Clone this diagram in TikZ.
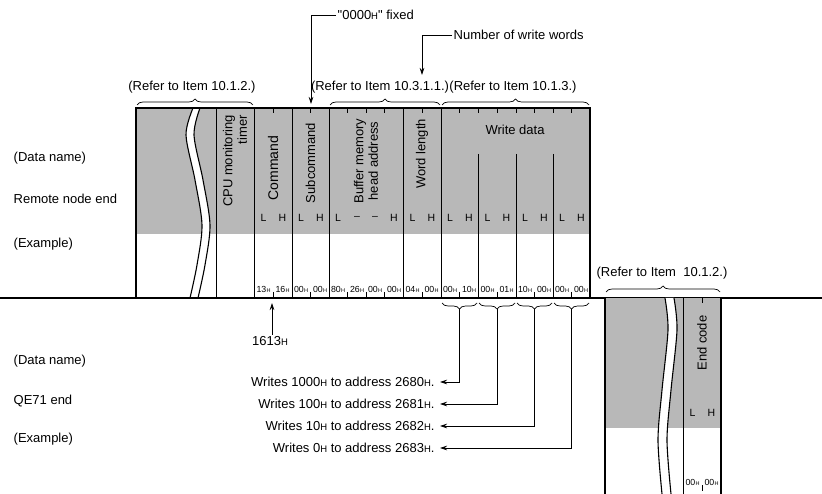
\documentclass[tikz,border=0pt]{standalone}
\usepackage{fontspec}
\setmainfont{Liberation Sans}[Ligatures=TeXOff]
\usetikzlibrary{decorations.pathreplacing,arrows.meta,calc}
\newcommand{\sH}{{\fontsize{9.5}{10}\selectfont H}}
\newcommand{\hv}[1]{#1\kern0.2pt{\fontsize{5.5}{5.5}\selectfont H}}
\begin{document}
\begin{tikzpicture}[x=1pt,y=-1pt,
  lbl/.style={font=\fontsize{13}{15}\selectfont, inner sep=1.5pt},
  wlbl/.style={font=\fontsize{13}{15}\selectfont, inner sep=1.5pt, outer sep=4pt, anchor=east},
  vlbl/.style={font=\fontsize{13}{14.5}\selectfont, rotate=90, inner sep=1pt},
  lh/.style={font=\fontsize{10.5}{11}\selectfont, inner sep=0pt},
  hexs/.style={font=\fontsize{8.8}{9}\selectfont, inner sep=0pt},
  frameline/.style={line width=0.9pt},
  outerline/.style={line width=1.4pt},
  tickline/.style={line width=0.6pt},
  arr/.style={line width=0.7pt, -{Stealth[length=7pt,width=4.5pt]}},
  brc/.style={line width=0.7pt, decorate, decoration={brace, amplitude=6pt}},
  shade/.style={fill=black!28, draw=none},
  wave/.style={line width=1.1pt},
]
\useasboundingbox (0,0) rectangle (822,494);

% ---------- upper frame (remote node end) ----------
\fill[shade] (136,108) rectangle (590,234);
\fill[white] plot[smooth] coordinates {(193,108) (186,135) (195,180) (202,225) (197,265) (190,298)}
  -- plot[smooth] coordinates {(198,298) (205,265) (210,225) (203,180) (194,135) (200,108)} -- cycle;
\draw[wave] plot[smooth] coordinates {(193,108) (186,135) (195,180) (202,225) (197,265) (190,298)};
\draw[wave] plot[smooth] coordinates {(200,108) (194,135) (203,180) (210,225) (205,265) (198,298)};

\draw[line width=1.8pt] (0,298) -- (822,298);
\draw[outerline] (136,298) -- (136,108) -- (590,108) -- (590,298);
\foreach \x in {216,254,292,329,403,441}{\draw[frameline] (\x,108) -- (\x,298);}
\foreach \x in {478,516,553}{\draw[frameline] (\x,154) -- (\x,298);}
\foreach \x in {273,310.5,347.5,366,384.5,422,459.5,478,497,516,534.5,553,571.5}{\draw[tickline] (\x,108) -- (\x,113);}
\foreach \x in {273,310.5,347.5,366,384.5,422,459.5,497,534.5,571.5}{\draw[tickline] (\x,292) -- (\x,298);}

% column names
\node[vlbl, align=right] (cpu) at (235,161) {CPU monitoring\\timer};
\node[vlbl, font=\fontsize{14}{15}\selectfont] (cmd) at (273,168) {Command};
\node[vlbl] (sub) at (310.5,163) {Subcommand};
\node[vlbl, align=center] (buf) at (366,161) {Buffer memory\\head address};
\node[vlbl] (wl) at (422,154) {Word length};
\node[font=\fontsize{13}{14}\selectfont] (wd) at (515,130) {Write data};

% L / H
\foreach \x/\t [count=\i] in {263.5/L,282.5/H,301/L,320/H,338/L,357/\textendash,375/\textendash,394/H,412.5/L,431.5/H,450/L,469/H,487.5/L,506.5/H,525/L,544/H,562/L,581/H}
  {\node[lh] (lh\i) at (\x,218) {\t};}
% example values
\foreach \x/\t [count=\i] in {263.5/13,282.5/16,301/00,320/00,338/80,357/26,375/00,394/00,412.5/04,431.5/00,450/00,469/10,487.5/00,506.5/01,525/10,544/00,562/00,581/00}
  {\node[hexs] (hx\i) at (\x,289) {\hv{\t}};}

% references above
\node[lbl] (ref1) at (192,87) {(Refer to Item 10.1.2.)};
\node[lbl] (ref2) at (380,87) {(Refer to Item 10.3.1.1.)};
\node[lbl] (ref3) at (513,87) {(Refer to Item 10.1.3.)};
\draw[brc] (137,105) -- (253,105);
\draw[brc] (330,105) -- (440,105);
\draw[brc] (442,105) -- (589,105);

% top call-outs
\node[lbl, anchor=west] (fixed) at (336,15) {"0000\sH" fixed};
\node[lbl, anchor=west] (nww) at (452,35) {Number of write words};
\coordinate (fixtip) at (311,104);
\coordinate (nwwtip) at (422,75);
\draw[arr] (fixed.west) -| (fixtip);
\draw[arr] (nww.west) -| (nwwtip);

% left labels
\node[lbl, anchor=west] (dn1) at (12,158) {(Data name)};
\node[lbl, anchor=west] (rne) at (12,199) {Remote node end};
\node[lbl, anchor=west] (ex1) at (12,244) {(Example)};
\node[lbl, anchor=west] (dn2) at (12,361) {(Data name)};
\node[lbl, anchor=west] (qe) at (12,401) {QE71 end};
\node[lbl, anchor=west] (ex2) at (12,439) {(Example)};

% 1613H
\node[lbl] (n1613) at (270,341) {1613\sH};
\coordinate (cmdmid) at (272,303);
\draw[arr] (n1613.north -| cmdmid) -- (cmdmid);

% braces under write data and arrows
\draw[brc] (477,303) -- (442,303);
\draw[brc] (515,303) -- (479,303);
\draw[brc] (552,303) -- (517,303);
\draw[brc] (589,303) -- (554,303);
\coordinate (b1) at (459.5,309);
\coordinate (b2) at (497,309);
\coordinate (b3) at (534.5,309);
\coordinate (b4) at (571.5,309);
\node[wlbl] (w1) at (440,382) {Writes 1000\sH{} to address 2680\sH.};
\node[wlbl] (w2) at (440,404) {Writes 100\sH{} to address 2681\sH.};
\node[wlbl] (w3) at (440,426) {Writes 10\sH{} to address 2682\sH.};
\node[wlbl] (w4) at (440,448) {Writes 0\sH{} to address 2683\sH.};
\draw[arr] (b1) |- (w1.east);
\draw[arr] (b2) |- (w2.east);
\draw[arr] (b3) |- (w3.east);
\draw[arr] (b4) |- (w4.east);

% ---------- lower frame (QE71 end) ----------
\fill[shade] (605,298) rectangle (721,428);
\fill[white] plot[smooth] coordinates {(665,298) (668,330) (662,390) (658,440) (662,494)}
  -- plot[smooth] coordinates {(671,494) (667,440) (671,390) (677,330) (674,298)} -- cycle;
\draw[wave] plot[smooth] coordinates {(665,298) (668,330) (662,390) (658,440) (662,494)};
\draw[wave] plot[smooth] coordinates {(674,298) (677,330) (671,390) (667,440) (671,494)};
\draw[outerline] (605,298) -- (605,494);
\draw[frameline] (683,298) -- (683,494);
\draw[outerline] (721,298) -- (721,494);
\draw[tickline] (702,298) -- (702,303);
\draw[tickline] (702,485) -- (702,491);
\node[vlbl] (ec) at (702,343) {End code};
\node[lh] (ecl) at (692.5,413) {L};
\node[lh] (ech) at (711.5,413) {H};
\node[hexs] (ecx1) at (692.5,482) {\hv{00}};
\node[hexs] (ecx2) at (711.5,482) {\hv{00}};
\node[lbl] (ref4) at (662,273) {(Refer to Item\ \ 10.1.2.)};
\draw[brc] (606,292) -- (720,292);
\end{tikzpicture}
\end{document}
